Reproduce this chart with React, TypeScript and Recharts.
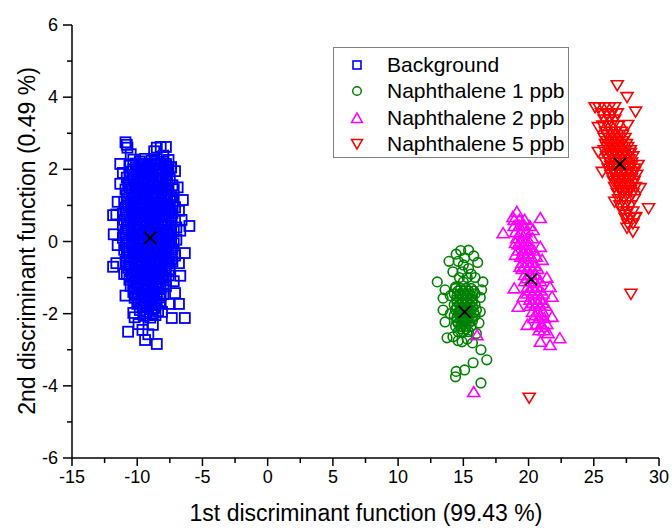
import { ScatterChart, Scatter, XAxis, YAxis } from "recharts"

// axis ticks (minor ticks included, labels only on majors)
const xTicks = [-15, -12.5, -10, -7.5, -5, -2.5, 0, 2.5, 5, 7.5, 10, 12.5, 15, 17.5, 20, 22.5, 25, 27.5, 30]
const yTicks = [-6, -5, -4, -3, -2, -1, 0, 1, 2, 3, 4, 5, 6]

// Background scores
const background = [
  [-10.3, 2.27], [-9.8, 2.22], [-9.4, 2.29], [-8.9, 2.24], [-8.5, 2.28], [-8.0, 2.21], [-7.6, 2.26],
  [-10.6, 2.1], [-10.1, 2.05], [-9.7, 2.12], [-9.2, 2.07], [-8.7, 2.11], [-8.3, 2.04], [-7.8, 2.09], [-7.4, 2.06],
  [-10.5, 1.94], [-10.0, 1.89], [-9.5, 1.96], [-9.1, 1.91], [-8.6, 1.95], [-8.1, 1.88], [-7.7, 1.93],
  [-10.8, 1.77], [-10.3, 1.72], [-9.9, 1.79], [-9.4, 1.74], [-8.9, 1.78], [-8.4, 1.71], [-8.0, 1.76], [-7.5, 1.73],
  [-10.7, 1.6], [-10.2, 1.55], [-9.7, 1.62], [-9.2, 1.57], [-8.8, 1.61], [-8.3, 1.54], [-7.8, 1.59], [-7.3, 1.56],
  [-10.9, 1.44], [-10.4, 1.39], [-10.0, 1.46], [-9.5, 1.41], [-9.0, 1.45], [-8.6, 1.38], [-8.1, 1.43], [-7.6, 1.4], [-7.2, 1.45],
  [-10.8, 1.27], [-10.3, 1.22], [-9.8, 1.29], [-9.3, 1.24], [-8.8, 1.28], [-8.4, 1.21], [-7.9, 1.26], [-7.4, 1.23],
  [-11.0, 1.1], [-10.5, 1.05], [-10.1, 1.12], [-9.6, 1.07], [-9.1, 1.11], [-8.7, 1.04], [-8.2, 1.09], [-7.7, 1.06], [-7.2, 1.11],
  [-10.9, 0.94], [-10.4, 0.89], [-9.9, 0.96], [-9.4, 0.91], [-8.9, 0.95], [-8.5, 0.88], [-8.0, 0.93], [-7.5, 0.9], [-7.1, 0.95],
  [-11.1, 0.77], [-10.6, 0.72], [-10.2, 0.79], [-9.7, 0.74], [-9.2, 0.78], [-8.8, 0.71], [-8.3, 0.76], [-7.8, 0.73], [-7.3, 0.78],
  [-11.0, 0.6], [-10.5, 0.55], [-10.0, 0.62], [-9.5, 0.57], [-9.0, 0.61], [-8.6, 0.54], [-8.1, 0.59], [-7.6, 0.56], [-7.1, 0.61],
  [-11.1, 0.44], [-10.7, 0.39], [-10.2, 0.46], [-9.8, 0.41], [-9.3, 0.45], [-8.8, 0.38], [-8.4, 0.43], [-7.9, 0.4], [-7.4, 0.45], [-7.0, 0.39],
  [-10.9, 0.27], [-10.4, 0.22], [-10.0, 0.29], [-9.5, 0.24], [-9.1, 0.28], [-8.6, 0.21], [-8.2, 0.26], [-7.7, 0.23], [-7.2, 0.28],
  [-11.1, 0.1], [-10.6, 0.05], [-10.2, 0.12], [-9.7, 0.07], [-9.2, 0.11], [-8.8, 0.04], [-8.3, 0.09], [-7.9, 0.06], [-7.4, 0.11], [-7.0, 0.05],
  [-10.9, -0.06], [-10.4, -0.11], [-9.9, -0.04], [-9.5, -0.09], [-9.0, -0.05], [-8.6, -0.12], [-8.1, -0.07], [-7.6, -0.1], [-7.2, -0.05],
  [-11.0, -0.23], [-10.6, -0.28], [-10.1, -0.21], [-9.7, -0.26], [-9.2, -0.22], [-8.7, -0.29], [-8.3, -0.24], [-7.8, -0.27], [-7.3, -0.22],
  [-10.8, -0.4], [-10.3, -0.45], [-9.9, -0.38], [-9.4, -0.43], [-9.0, -0.39], [-8.5, -0.46], [-8.0, -0.41], [-7.6, -0.44], [-7.1, -0.39],
  [-10.9, -0.56], [-10.5, -0.61], [-10.0, -0.54], [-9.6, -0.59], [-9.1, -0.55], [-8.7, -0.62], [-8.2, -0.57], [-7.7, -0.6], [-7.3, -0.55],
  [-10.7, -0.73], [-10.2, -0.78], [-9.8, -0.71], [-9.3, -0.76], [-8.9, -0.72], [-8.4, -0.79], [-7.9, -0.74], [-7.5, -0.77],
  [-10.8, -0.9], [-10.4, -0.95], [-9.9, -0.88], [-9.5, -0.93], [-9.0, -0.89], [-8.6, -0.96], [-8.1, -0.91], [-7.6, -0.94],
  [-10.6, -1.06], [-10.1, -1.11], [-9.7, -1.04], [-9.2, -1.09], [-8.8, -1.05], [-8.3, -1.12], [-7.8, -1.07],
  [-10.5, -1.23], [-10.0, -1.28], [-9.5, -1.21], [-9.1, -1.26], [-8.6, -1.22], [-8.2, -1.29], [-7.8, -1.24],
  [-10.3, -1.4], [-9.9, -1.45], [-9.4, -1.38], [-8.9, -1.43], [-8.5, -1.39], [-8.0, -1.46],
  [-10.2, -1.56], [-9.7, -1.61], [-9.2, -1.54], [-8.8, -1.59], [-8.3, -1.55],
  [-10.0, -1.73], [-9.5, -1.78], [-9.1, -1.71], [-8.6, -1.76], [-8.2, -1.72],
  [-9.8, -1.9], [-9.3, -1.95], [-8.9, -1.88], [-8.4, -1.93],
  [-9.5, -2.06], [-9.0, -2.11], [-8.6, -2.04],
  // inner core (very dense in the original)
  [-10.1, 2.16], [-9.6, 2.16], [-9.1, 2.15], [-8.7, 2.17], [-8.2, 2.16], [-7.8, 2.15],
  [-10.3, 2.0], [-9.9, 2.01], [-9.4, 1.99], [-9.0, 2.0], [-8.5, 2.01], [-8.0, 1.99], [-7.6, 2.0],
  [-10.6, 1.84], [-10.2, 1.85], [-9.7, 1.83], [-9.2, 1.84], [-8.8, 1.85], [-8.3, 1.83], [-7.8, 1.84],
  [-10.5, 1.67], [-10.0, 1.68], [-9.6, 1.66], [-9.1, 1.67], [-8.6, 1.68], [-8.2, 1.66], [-7.7, 1.67],
  [-10.6, 1.5], [-10.1, 1.51], [-9.6, 1.49], [-9.1, 1.5], [-8.7, 1.51], [-8.2, 1.49], [-7.7, 1.5],
  [-10.6, 1.33], [-10.1, 1.34], [-9.6, 1.32], [-9.2, 1.33], [-8.7, 1.34], [-8.2, 1.32], [-7.7, 1.33],
  [-10.8, 1.17], [-10.3, 1.18], [-9.8, 1.16], [-9.4, 1.17], [-8.9, 1.18], [-8.4, 1.16], [-7.9, 1.17], [-7.5, 1.18],
  [-10.7, 1.0], [-10.2, 1.01], [-9.7, 0.99], [-9.3, 1.0], [-8.8, 1.01], [-8.3, 0.99], [-7.8, 1.0], [-7.3, 1.01],
  [-10.9, 0.83], [-10.4, 0.84], [-9.9, 0.82], [-9.5, 0.83], [-9.0, 0.84], [-8.5, 0.82], [-8.0, 0.83], [-7.6, 0.84],
  [-10.8, 0.67], [-10.3, 0.68], [-9.8, 0.66], [-9.4, 0.67], [-8.9, 0.68], [-8.4, 0.66], [-7.9, 0.67], [-7.4, 0.68],
  [-10.8, 0.5], [-10.3, 0.51], [-9.8, 0.49], [-9.3, 0.5], [-8.9, 0.51], [-8.4, 0.49], [-7.9, 0.5], [-7.4, 0.51],
  [-10.8, 0.33], [-10.3, 0.34], [-9.8, 0.32], [-9.3, 0.33], [-8.9, 0.34], [-8.4, 0.32], [-7.9, 0.33], [-7.4, 0.34],
  [-10.9, 0.17], [-10.4, 0.18], [-9.9, 0.16], [-9.5, 0.17], [-9.0, 0.18], [-8.5, 0.16], [-8.0, 0.17], [-7.6, 0.18],
  [-10.8, 0.0], [-10.3, 0.01], [-9.8, -0.01], [-9.4, 0.0], [-8.9, 0.01], [-8.5, -0.01], [-8.0, 0.0], [-7.5, 0.01],
  [-10.8, -0.17], [-10.3, -0.16], [-9.8, -0.18], [-9.3, -0.17], [-8.9, -0.16], [-8.4, -0.18], [-7.9, -0.17], [-7.4, -0.16],
  [-10.7, -0.33], [-10.2, -0.32], [-9.7, -0.34], [-9.3, -0.33], [-8.8, -0.32], [-8.4, -0.34], [-7.9, -0.33], [-7.4, -0.32],
  [-10.6, -0.5], [-10.1, -0.49], [-9.7, -0.51], [-9.2, -0.5], [-8.7, -0.49], [-8.3, -0.51], [-7.8, -0.5], [-7.4, -0.49],
  [-10.6, -0.67], [-10.1, -0.66], [-9.6, -0.68], [-9.2, -0.67], [-8.7, -0.66], [-8.2, -0.68], [-7.8, -0.67],
  [-10.5, -0.83], [-10.0, -0.82], [-9.6, -0.84], [-9.1, -0.83], [-8.6, -0.82], [-8.2, -0.84], [-7.8, -0.83],
  [-10.4, -1.0], [-9.9, -0.99], [-9.4, -1.01], [-9.0, -1.0], [-8.5, -0.99], [-8.0, -1.01],
  [-10.3, -1.17], [-9.9, -1.16], [-9.4, -1.18], [-8.9, -1.17], [-8.5, -1.16], [-8.0, -1.18],
  [-10.2, -1.33], [-9.7, -1.32], [-9.3, -1.34], [-8.8, -1.33], [-8.4, -1.32],
  [-10.0, -1.5], [-9.6, -1.49], [-9.1, -1.51], [-8.7, -1.5], [-8.2, -1.49],
  [-9.9, -1.67], [-9.4, -1.66], [-8.9, -1.68], [-8.5, -1.67],
  [-9.6, -1.83], [-9.2, -1.82], [-8.7, -1.84],
  [-9.3, -2.0], [-8.8, -1.99],
  // scattered edge points
  [-10.9, 2.75], [-10.8, 2.68], [-10.75, 2.6], [-11.3, 2.15], [-10.5, 2.42], [-8.5, 2.6], [-8.2, 2.62], [-7.8, 2.62],
  [-8.0, 2.38], [-8.7, 2.5], [-7.4, 2.05], [-7.1, 1.95], [-6.9, 1.5], [-6.5, 1.15], [-6.8, 0.85], [-6.6, 0.6],
  [-6.0, 0.43], [-6.7, 0.3], [-11.85, 0.73], [-11.6, 0.75], [-11.5, 1.1], [-11.8, 0.2], [-11.5, -0.1], [-11.6, -0.6],
  [-11.85, -0.7], [-6.35, -0.32], [-6.8, -0.6], [-6.7, -0.95], [-7.1, -1.43], [-6.8, -1.73], [-7.5, -1.73], [-6.35, -2.12],
  [-7.35, -2.12], [-10.9, -1.5], [-10.7, -2.5], [-10.3, -1.98], [-9.9, -2.29], [-9.4, -2.73], [-9.15, -2.57], [-8.8, -2.31],
  [-8.5, -2.84], [-8.1, -1.95], [-9.6, -2.45], [-11.0, -0.9], [-11.3, 1.6], [-11.1, 1.9], [-7.2, -1.1], [-10.2, -2.1],
]

// Naphthalene 1 ppb
const naph1 = [
  [14.4, -1.3], [14.8, -1.3], [15.2, -1.3], [15.6, -1.3],
  [14.3, -1.45], [14.7, -1.45], [15.1, -1.45], [15.5, -1.45], [15.9, -1.45],
  [14.5, -1.6], [14.9, -1.6], [15.3, -1.6], [15.7, -1.6],
  [14.3, -1.75], [14.7, -1.75], [15.1, -1.75], [15.5, -1.75], [15.9, -1.75],
  [14.4, -1.9], [14.8, -1.9], [15.2, -1.9], [15.6, -1.9], [16.0, -1.9],
  [14.3, -2.05], [14.7, -2.05], [15.1, -2.05], [15.5, -2.05], [15.9, -2.05],
  [14.5, -2.2], [14.9, -2.2], [15.3, -2.2], [15.7, -2.2],
  [14.4, -2.35], [14.8, -2.35], [15.2, -2.35], [15.6, -2.35],
  [14.6, -2.5], [15.0, -2.5], [15.4, -2.5],
  [14.6, -1.37], [15.0, -1.37], [15.4, -1.37], [15.8, -1.37],
  [14.5, -1.52], [14.9, -1.52], [15.3, -1.52], [15.7, -1.52],
  [14.5, -1.67], [14.9, -1.67], [15.3, -1.67], [15.7, -1.67],
  [14.5, -1.82], [14.9, -1.82], [15.3, -1.82], [15.7, -1.82],
  [14.6, -1.97], [15.0, -1.97], [15.4, -1.97], [15.8, -1.97],
  [14.5, -2.12], [14.9, -2.12], [15.3, -2.12], [15.7, -2.12],
  [14.6, -2.27], [15.0, -2.27], [15.4, -2.27],
  [14.8, -2.42], [15.2, -2.42],
  [15.4, -0.24], [14.45, -0.35], [13.9, -0.55], [15.0, -0.65], [16.1, -0.58], [14.2, -0.84], [14.9, -0.84],
  [15.4, -0.75], [15.9, -1.0], [16.5, -1.12], [16.4, -1.34], [15.0, -1.12], [14.4, -1.26], [14.7, -1.0],
  [15.3, -1.0], [15.6, -0.9], [14.6, -0.55], [15.1, -0.45], [13.0, -1.12], [13.6, -1.34], [13.45, -1.57],
  [13.45, -1.9], [13.6, -2.23], [13.75, -2.67], [14.2, -2.64], [14.9, -2.78], [15.7, -2.81], [16.3, -1.95],
  [16.2, -2.26], [16.3, -1.55], [14.0, -2.0], [14.0, -1.5], [16.0, -2.55], [16.35, -3.0], [16.8, -3.28],
  [15.75, -3.36], [15.1, -3.56], [14.45, -3.6], [14.4, -3.75], [16.35, -3.92], [15.3, -2.7], [14.6, -2.75],
  [15.8, -0.4], [14.8, -0.25],
]

// Naphthalene 2 ppb
const naph2 = [
  [18.9, 0.6], [19.3, 0.6], [19.7, 0.6],
  [18.9, 0.43], [19.3, 0.43], [19.7, 0.43], [20.1, 0.43],
  [19.0, 0.26], [19.4, 0.26], [19.8, 0.26],
  [19.1, 0.09], [19.5, 0.09], [19.9, 0.09], [20.3, 0.09],
  [19.2, -0.08], [19.6, -0.08], [20.0, -0.08],
  [19.2, -0.25], [19.6, -0.25], [20.0, -0.25], [20.4, -0.25],
  [19.4, -0.42], [19.8, -0.42], [20.2, -0.42], [20.6, -0.42],
  [19.5, -0.59], [19.9, -0.59], [20.3, -0.59],
  [19.5, -0.76], [19.9, -0.76], [20.3, -0.76], [20.7, -0.76],
  [19.7, -0.93], [20.1, -0.93], [20.5, -0.93],
  [19.7, -1.1], [20.1, -1.1], [20.5, -1.1], [20.9, -1.1],
  [19.9, -1.27], [20.3, -1.27], [20.7, -1.27],
  [19.9, -1.44], [20.3, -1.44], [20.7, -1.44], [21.1, -1.44],
  [20.1, -1.61], [20.5, -1.61], [20.9, -1.61],
  [20.1, -1.78], [20.5, -1.78], [20.9, -1.78], [21.3, -1.78],
  [20.3, -1.95], [20.7, -1.95], [21.1, -1.95],
  [20.4, -2.12], [20.8, -2.12], [21.2, -2.12],
  [20.6, -2.29], [21.0, -2.29], [21.4, -2.29],
  [20.8, -2.46], [21.2, -2.46],
  [19.4, 0.0], [19.8, 0.0], [19.6, -0.34], [20.0, -0.34], [19.7, -0.68], [20.1, -0.68], [20.5, -0.68],
  [19.9, -1.02], [20.3, -1.02], [20.7, -1.02], [20.1, -1.36], [20.5, -1.36], [20.9, -1.36],
  [20.3, -1.7], [20.7, -1.7], [21.1, -1.7], [20.5, -2.04], [20.9, -2.04],
  [19.1, 0.82], [18.8, 0.68], [20.9, 0.65], [18.05, 0.23], [19.6, 0.46], [20.35, 0.32], [19.0, -0.04],
  [19.0, -0.37], [20.9, -0.15], [21.05, -0.51], [19.35, -0.7], [21.65, -1.26], [21.8, -1.53], [19.2, -1.81],
  [19.6, -1.53], [19.9, -2.31], [21.8, -2.09], [21.05, -2.37], [21.5, -2.54], [22.4, -2.68], [20.9, -2.78],
  [21.65, -2.87], [15.8, -4.17], [16.05, -2.6], [21.4, -1.0], [18.9, -1.3],
]

// Naphthalene 5 ppb
const naph5 = [
  [25.4, 3.72], [25.8, 3.72], [26.2, 3.72], [26.6, 3.72],
  [25.6, 3.55], [26.0, 3.55], [26.4, 3.55], [26.8, 3.55],
  [25.8, 3.38], [26.2, 3.38], [26.6, 3.38],
  [25.7, 3.21], [26.1, 3.21], [26.5, 3.21], [26.9, 3.21],
  [25.9, 3.04], [26.3, 3.04], [26.7, 3.04], [27.1, 3.04],
  [25.8, 2.87], [26.2, 2.87], [26.6, 2.87], [27.0, 2.87], [27.4, 2.87],
  [25.9, 2.7], [26.3, 2.7], [26.7, 2.7], [27.1, 2.7], [27.5, 2.7],
  [25.8, 2.53], [26.2, 2.53], [26.6, 2.53], [27.0, 2.53], [27.4, 2.53], [27.8, 2.53],
  [26.0, 2.36], [26.4, 2.36], [26.8, 2.36], [27.2, 2.36], [27.6, 2.36], [28.0, 2.36],
  [25.9, 2.19], [26.3, 2.19], [26.7, 2.19], [27.1, 2.19], [27.5, 2.19], [27.9, 2.19],
  [26.1, 2.02], [26.5, 2.02], [26.9, 2.02], [27.3, 2.02], [27.7, 2.02], [28.1, 2.02],
  [26.3, 1.85], [26.7, 1.85], [27.1, 1.85], [27.5, 1.85], [27.9, 1.85], [28.3, 1.85],
  [26.5, 1.68], [26.9, 1.68], [27.3, 1.68], [27.7, 1.68], [28.1, 1.68],
  [26.6, 1.51], [27.0, 1.51], [27.4, 1.51], [27.8, 1.51], [28.2, 1.51],
  [26.8, 1.34], [27.2, 1.34], [27.6, 1.34], [28.0, 1.34],
  [26.9, 1.17], [27.3, 1.17], [27.7, 1.17], [28.1, 1.17],
  [27.0, 1.0], [27.4, 1.0], [27.8, 1.0],
  [27.2, 0.83], [27.6, 0.83], [28.0, 0.83],
  [27.4, 0.66], [27.8, 0.66], [28.2, 0.66],
  [27.6, 0.5], [28.0, 0.5],
  [26.0, 2.95], [26.4, 2.95], [26.8, 2.95], [27.2, 2.95],
  [26.0, 2.78], [26.4, 2.78], [26.8, 2.78], [27.2, 2.78],
  [26.0, 2.62], [26.4, 2.62], [26.8, 2.62], [27.2, 2.62], [27.6, 2.62],
  [26.2, 2.45], [26.6, 2.45], [27.0, 2.45], [27.4, 2.45], [27.8, 2.45],
  [26.1, 2.28], [26.5, 2.28], [26.9, 2.28], [27.3, 2.28], [27.7, 2.28],
  [26.3, 2.1], [26.7, 2.1], [27.1, 2.1], [27.5, 2.1], [27.9, 2.1],
  [26.5, 1.93], [26.9, 1.93], [27.3, 1.93], [27.7, 1.93], [28.1, 1.93],
  [26.7, 1.76], [27.1, 1.76], [27.5, 1.76], [27.9, 1.76],
  [26.8, 1.6], [27.2, 1.6], [27.6, 1.6], [28.0, 1.6],
  [27.0, 1.42], [27.4, 1.42], [27.8, 1.42],
  [26.8, 4.33], [27.55, 4.0], [25.1, 3.72], [28.2, 3.6], [25.35, 3.17], [27.6, 3.23], [25.35, 2.48],
  [25.65, 1.93], [28.4, 2.12], [28.55, 1.48], [26.6, 1.1], [29.2, 0.92], [27.45, 0.74], [28.2, 0.68],
  [27.55, 0.38], [28.0, 0.27], [27.85, -1.45], [20.05, -4.33],
]

// group centroids (black crosses)
const centroids = [[-9.0, 0.1], [15.1, -1.95], [20.2, -1.05], [27.0, 2.15]]

const BLUE = "#0000ff"
const GREEN = "#008000"
const MAGENTA = "#ff00ff"
const RED = "#ff0000"

const toPts = (pairs: number[][]) => pairs.map(([x, y]) => ({ x, y }))

const Square = ({ cx, cy }: any) => (
  <rect x={cx - 5} y={cy - 5} width={10} height={10} fill="none" stroke={BLUE} strokeWidth={1.8} />
)
const Ring = ({ cx, cy }: any) => <circle cx={cx} cy={cy} r={4.8} fill="none" stroke={GREEN} strokeWidth={1.6} />
const TriUp = ({ cx, cy }: any) => (
  <polygon
    points={`${cx},${cy - 5.5} ${cx - 6},${cy + 4.5} ${cx + 6},${cy + 4.5}`}
    fill="none"
    stroke={MAGENTA}
    strokeWidth={1.6}
  />
)
const TriDown = ({ cx, cy }: any) => (
  <polygon
    points={`${cx},${cy + 5.5} ${cx - 6},${cy - 4.5} ${cx + 6},${cy - 4.5}`}
    fill="none"
    stroke={RED}
    strokeWidth={1.6}
  />
)
const Cross = ({ cx, cy }: any) => (
  <g stroke="#000" strokeWidth={2}>
    <line x1={cx - 6} y1={cy - 6} x2={cx + 6} y2={cy + 6} />
    <line x1={cx - 6} y1={cy + 6} x2={cx + 6} y2={cy - 6} />
  </g>
)

const TICK_SIZE = 8
const TICK_MARGIN = 4

const XTick = ({ x, y, payload }: any) => {
  const v = payload.value
  const major = v % 5 === 0
  const axisY = y - TICK_SIZE - TICK_MARGIN
  return (
    <g>
      <line x1={x} x2={x} y1={axisY} y2={axisY + (major ? 8 : 5)} stroke="#000" strokeWidth={1.5} />
      {major && (
        <text x={x} y={axisY + 25} textAnchor="middle" fontSize={18} fill="#000">
          {v}
        </text>
      )}
    </g>
  )
}

const YTick = ({ x, y, payload }: any) => {
  const v = payload.value
  const major = v % 2 === 0
  const axisX = x + TICK_SIZE + TICK_MARGIN
  return (
    <g>
      <line x1={axisX - (major ? 9 : 5)} x2={axisX} y1={y} y2={y} stroke="#000" strokeWidth={1.5} />
      {major && (
        <text x={axisX - 14} y={y + 6} textAnchor="end" fontSize={18} fill="#000">
          {v}
        </text>
      )}
    </g>
  )
}

const legendItems = [
  { name: "Background", kind: "square", color: BLUE },
  { name: "Naphthalene 1 ppb", kind: "circle", color: GREEN },
  { name: "Naphthalene 2 ppb", kind: "up", color: MAGENTA },
  { name: "Naphthalene 5 ppb", kind: "down", color: RED },
]

const LegendMark = ({ kind, color }: { kind: string; color: string }) => (
  <svg width={14} height={14} style={{ position: "absolute", left: 16, top: -7 }}>
    {kind === "square" && <rect x={3} y={3} width={8} height={8} fill="none" stroke={color} strokeWidth={1.6} />}
    {kind === "circle" && <circle cx={7} cy={7} r={4.3} fill="none" stroke={color} strokeWidth={1.5} />}
    {kind === "up" && <polygon points="7,2 1.5,11.5 12.5,11.5" fill="none" stroke={color} strokeWidth={1.5} />}
    {kind === "down" && <polygon points="7,12 1.5,2.5 12.5,2.5" fill="none" stroke={color} strokeWidth={1.5} />}
  </svg>
)

export default function App() {
  return (
    <div
      style={{
        position: "absolute",
        left: 0,
        top: 0,
        width: 672,
        height: 528,
        background: "#fff",
        fontFamily: "'Liberation Sans', Arial, sans-serif",
      }}
    >
      <ScatterChart width={672} height={528} margin={{ top: 25, right: 13, bottom: 0, left: 0 }}>
        <XAxis
          type="number"
          dataKey="x"
          domain={[-15, 30]}
          ticks={xTicks}
          interval={0}
          height={70}
          tickSize={TICK_SIZE}
          tickMargin={TICK_MARGIN}
          tickLine={false}
          tick={<XTick />}
          axisLine={{ stroke: "#000", strokeWidth: 1.5 }}
          allowDataOverflow
        />
        <YAxis
          type="number"
          dataKey="y"
          domain={[-6, 6]}
          ticks={yTicks}
          interval={0}
          width={72}
          tickSize={TICK_SIZE}
          tickMargin={TICK_MARGIN}
          tickLine={false}
          tick={<YTick />}
          axisLine={{ stroke: "#000", strokeWidth: 1.5 }}
          allowDataOverflow
        />
        <Scatter name="Background" data={toPts(background)} shape={Square} isAnimationActive={false} />
        <Scatter name="Naphthalene 1 ppb" data={toPts(naph1)} shape={Ring} isAnimationActive={false} />
        <Scatter name="Naphthalene 2 ppb" data={toPts(naph2)} shape={TriUp} isAnimationActive={false} />
        <Scatter name="Naphthalene 5 ppb" data={toPts(naph5)} shape={TriDown} isAnimationActive={false} />
        <Scatter name="Centroid" data={toPts(centroids)} shape={Cross} isAnimationActive={false} />
      </ScatterChart>

      {/* axis titles */}
      <div
        style={{
          position: "absolute",
          left: 0,
          width: 672,
          top: 500,
          textAlign: "center",
          paddingLeft: 60,
          boxSizing: "border-box",
          fontSize: 23,
          color: "#000",
          lineHeight: "26px",
        }}
      >
        1st discriminant function (99.43 %)
      </div>
      <div
        style={{
          position: "absolute",
          left: 27,
          top: 241,
          transform: "translate(-50%, -50%) rotate(-90deg)",
          whiteSpace: "nowrap",
          fontSize: 23,
          color: "#000",
          lineHeight: "26px",
        }}
      >
        2nd discriminant function (0.49 %)
      </div>

      {/* legend */}
      <div
        style={{
          position: "absolute",
          left: 333,
          top: 47,
          width: 236,
          height: 111,
          border: "1.5px solid #808080",
          boxSizing: "border-box",
          background: "#fff",
        }}
      >
        {legendItems.map((it, i) => (
          <div key={it.name} style={{ position: "absolute", left: 0, top: 17 + i * 26.3, width: "100%" }}>
            <LegendMark kind={it.kind} color={it.color} />
            <span
              style={{
                position: "absolute",
                left: 53,
                top: -13,
                fontSize: 21,
                lineHeight: "26px",
                whiteSpace: "nowrap",
                color: "#000",
              }}
            >
              {it.name}
            </span>
          </div>
        ))}
      </div>
    </div>
  )
}
